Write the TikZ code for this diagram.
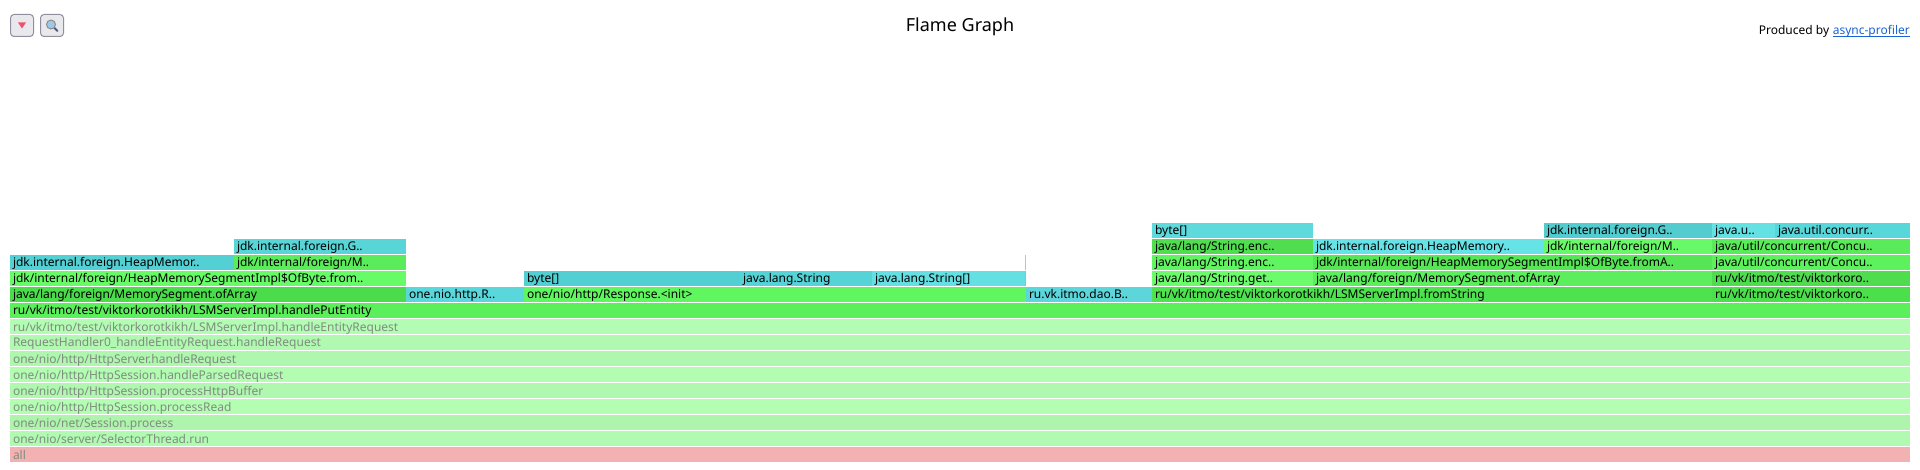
\documentclass[tikz,border=0pt]{standalone}
\usepackage{fontspec}
\setmainfont{Noto Sans}
\newcounter{fgn}
\tikzset{
  frame/.style={draw=none,inner sep=0pt,outer sep=0pt,anchor=north west,minimum height=15pt},
  flabel/.style={inner sep=0pt,outer sep=0pt,anchor=base west,font=\fontsize{12}{14}\selectfont},
  btn/.style={draw=btnedge,fill=btnfill,line width=1pt,rounded corners=3.5pt,minimum width=23pt,minimum height=22pt,inner sep=0pt,anchor=north west}
}
\definecolor{btnedge}{HTML}{8F8F9D}
\definecolor{btnfill}{HTML}{E9E9ED}
\definecolor{linkblue}{HTML}{1A62D6}
\definecolor{fadetext}{HTML}{808C80}
\definecolor{tri}{HTML}{F0506E}
\definecolor{lens}{HTML}{9CC8EC}
\definecolor{lensedge}{HTML}{8E8E86}
\definecolor{handle}{HTML}{4A5A80}
% x0, x1, row top, fill colour, text colour, text
\newcommand{\fgbox}[6]{%
  \stepcounter{fgn}%
  \definecolor{fgc}{HTML}{#4}%
  \pgfmathsetmacro{\fgw}{#2-#1}%
  \node[frame,fill=fgc,minimum width=\fgw pt] (f\arabic{fgn}) at (#1,#3) {};
  \node[flabel,text=#5] (t\arabic{fgn}) at ({#1+3},{#3+12}) {#6};
}
\begin{document}
\begin{tikzpicture}[x=1pt,y=-1pt]
\useasboundingbox (0,0) rectangle (1920,470);
% header
\node[btn] (btnA) at (10,14) {};
\fill[tri] (btnA.center) ++(-4,-3) -- ++(8,0) -- ++(-4,6) -- cycle;
\node[btn] (btnB) at (40,14) {};
\draw[line width=2pt,color=handle,line cap=round] (btnB.center) ++(2,2) -- ++(3.5,3.5);
\draw[line width=1pt,draw=lensedge,fill=lens] (btnB.center) ++(-1,-1) circle (4.5);
\node[inner sep=0pt,anchor=base,font=\fontsize{18}{22}\selectfont] (title) at (960,32) {Flame Graph};
\node[inner sep=0pt,anchor=base east,text=linkblue,font=\fontsize{12}{14}\selectfont] (link) at (1910,35) {async-profiler};
\node[inner sep=0pt,anchor=base east,font=\fontsize{12}{14}\selectfont] (prod) at ([xshift=-3.2pt]link.base west) {Produced by};
\draw[linkblue,line width=0.9pt] ([yshift=-1.5pt]link.base west) -- ([yshift=-1.5pt]link.base east);
% frames
\fgbox{10}{1910}{447}{F4B1B1}{fadetext}{all}
\fgbox{10}{1910}{431}{B1FAB1}{fadetext}{one/nio/server/SelectorThread.run}
\fgbox{10}{1910}{415}{AEF4AC}{fadetext}{one/nio/net/Session.process}
\fgbox{10}{1910}{399}{B4FEB4}{fadetext}{one/nio/http/HttpSession.processRead}
\fgbox{10}{1910}{383}{B0F8AF}{fadetext}{one/nio/http/HttpSession.processHttpBuffer}
\fgbox{10}{1910}{367}{B3FDB3}{fadetext}{one/nio/http/HttpSession.handleParsedRequest}
\fgbox{10}{1910}{351}{AFF6AE}{fadetext}{one/nio/http/HttpServer.handleRequest}
\fgbox{10}{1910}{335}{B1F9B0}{fadetext}{RequestHandler0\_handleEntityRequest.handleRequest}
\fgbox{10}{1910}{319}{B3FCB3}{fadetext}{ru/vk/itmo/test/viktorkorotkikh/LSMServerImpl.handleEntityRequest}
\fgbox{10}{1910}{303}{5BEF5B}{black}{ru/vk/itmo/test/viktorkorotkikh/LSMServerImpl.handlePutEntity}
% row 10
\fgbox{10}{406}{287}{4ADC4A}{black}{java/lang/foreign/MemorySegment.ofArray}
\fgbox{406}{524}{287}{5AD7DA}{black}{one.nio.http.R..}
\fgbox{524}{1026}{287}{60F660}{black}{one/nio/http/Response.<init>}
\fgbox{1026}{1152}{287}{5CD5DB}{black}{ru.vk.itmo.dao.B..}
\fgbox{1152}{1712}{287}{4EE34E}{black}{ru/vk/itmo/test/viktorkorotkikh/LSMServerImpl.fromString}
\fgbox{1712}{1910}{287}{4BDF4B}{black}{ru/vk/itmo/test/viktorkoro..}
% row 11
\fgbox{10}{406}{271}{68FB68}{black}{jdk/internal/foreign/HeapMemorySegmentImpl\$OfByte.from..}
\fgbox{524}{740}{271}{52CFD3}{black}{byte[]}
\fgbox{740}{872}{271}{56D3D6}{black}{java.lang.String}
\fgbox{872}{1025}{271}{64E0E2}{black}{java.lang.String[]}
\fgbox{1024.6}{1026}{271}{5CEE5C}{black}{}
\fgbox{1152}{1313}{271}{6BFB6B}{black}{java/lang/String.get..}
\fgbox{1313}{1712}{271}{5CEE5C}{black}{java/lang/foreign/MemorySegment.ofArray}
\fgbox{1712}{1910}{271}{4FDD4F}{black}{ru/vk/itmo/test/viktorkoro..}
% row 12
\fgbox{10}{234}{255}{52D0D3}{black}{jdk.internal.foreign.HeapMemor..}
\fgbox{234}{406}{255}{5BEC5B}{black}{jdk/internal/foreign/M..}
\fgbox{1024.6}{1026}{255}{6EE3E6}{black}{}
\fgbox{1152}{1313}{255}{61F461}{black}{java/lang/String.enc..}
\fgbox{1313}{1712}{255}{55E555}{black}{jdk/internal/foreign/HeapMemorySegmentImpl\$OfByte.fromA..}
\fgbox{1712}{1910}{255}{5DF15D}{black}{java/util/concurrent/Concu..}
% row 13
\fgbox{234}{406}{239}{57D5D7}{black}{jdk.internal.foreign.G..}
\fgbox{1152}{1313}{239}{50DE50}{black}{java/lang/String.enc..}
\fgbox{1313}{1544}{239}{66E3E6}{black}{jdk.internal.foreign.HeapMemory..}
\fgbox{1544}{1712}{239}{68F968}{black}{jdk/internal/foreign/M..}
\fgbox{1712}{1910}{239}{5AEB5A}{black}{java/util/concurrent/Concu..}
% row 14
\fgbox{1152}{1313}{223}{5FDADC}{black}{byte[]}
\fgbox{1544}{1712}{223}{52CCCF}{black}{jdk.internal.foreign.G..}
\fgbox{1712}{1775}{223}{63E1E3}{black}{java.u..}
\fgbox{1775}{1910}{223}{58D7DA}{black}{java.util.concurr..}
\end{tikzpicture}
\end{document}
